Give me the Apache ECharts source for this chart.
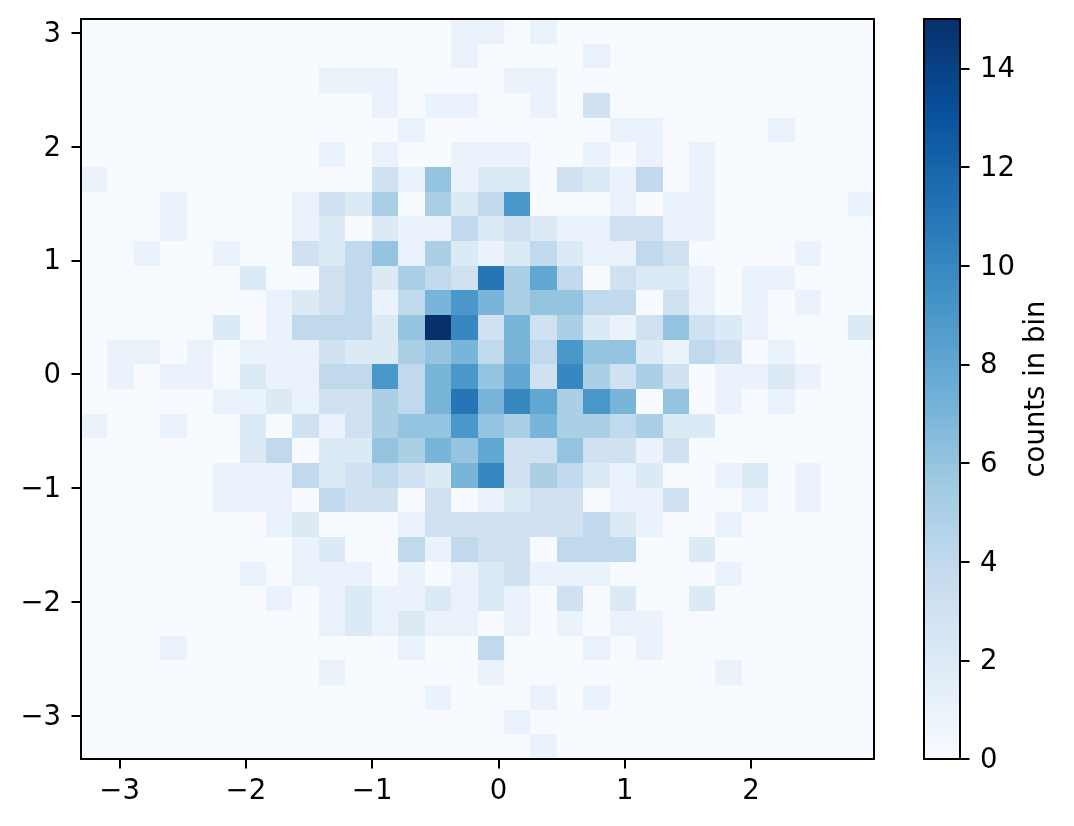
<!DOCTYPE html>
<html>
<head>
<meta charset="utf-8">
<style>html,body{margin:0;padding:0;background:#fff}#c{width:1074px;height:826px}</style>
<script src="https://cdn.jsdelivr.net/npm/echarts@6/dist/echarts.min.js"></script>
</head>
<body>
<div id="c"></div>
<script>
const xMin = -3.306, xMax = 2.975, yMin = -3.38, yMax = 3.12;
const xTicks = [-3, -2, -1, 0, 1, 2];
const yTicks = [-3, -2, -1, 0, 1, 2, 3];
const barTicks = [0, 2, 4, 6, 8, 10, 12, 14];
const blues = ['#f7fbff','#deebf7','#c6dbef','#9ecae1','#6baed6','#4292c6','#2171b5','#08519c','#08306b'];
const barLabel = 'counts in bin';
// counts per bin: first row is the top of the plot
const counts = [
[0,0,0,0,0,0,0,0,0,0,0,0,0,0,1,1,0,1,0,0,0,0,0,0,0,0,0,0,0,0],
[0,0,0,0,0,0,0,0,0,0,0,0,0,0,1,0,0,0,0,1,0,0,0,0,0,0,0,0,0,0],
[0,0,0,0,0,0,0,0,0,1,1,1,0,0,0,0,1,1,0,0,0,0,0,0,0,0,0,0,0,0],
[0,0,0,0,0,0,0,0,0,0,0,1,0,1,1,0,0,1,0,3,0,0,0,0,0,0,0,0,0,0],
[0,0,0,0,0,0,0,0,0,0,0,0,1,0,0,0,0,0,0,0,1,1,0,0,0,0,1,0,0,0],
[0,0,0,0,0,0,0,0,0,1,0,1,0,0,1,1,1,0,0,1,0,1,0,1,0,0,0,0,0,0],
[1,0,0,0,0,0,0,0,0,0,0,3,1,6,1,2,2,0,3,2,1,4,0,1,0,0,0,0,0,0],
[0,0,0,1,0,0,0,0,1,3,2,5,0,5,2,4,9,0,0,0,1,0,1,1,0,0,0,0,0,1],
[0,0,0,1,0,0,0,0,1,2,0,2,1,1,4,2,3,2,1,1,3,3,1,1,0,0,0,0,0,0],
[0,0,1,0,0,1,0,0,3,2,4,6,1,5,2,1,2,4,2,1,1,4,3,0,0,0,0,1,0,0],
[0,0,0,0,0,0,2,0,0,3,4,2,5,4,3,11,5,8,4,0,3,2,2,1,0,1,1,0,0,0],
[0,0,0,0,0,0,0,1,2,3,4,1,4,7,9,7,5,6,6,4,4,0,3,1,0,1,0,1,0,0],
[0,0,0,0,0,2,0,1,4,4,4,2,6,15,10,3,7,3,5,2,1,3,6,3,2,1,0,0,0,2],
[0,1,1,0,1,0,1,1,1,3,2,2,5,6,7,4,7,4,9,6,6,2,1,4,3,0,1,0,0,0],
[0,1,0,1,1,0,2,1,1,4,4,9,4,7,9,6,8,3,10,5,3,5,3,0,1,1,2,1,0,0],
[0,0,0,0,0,1,1,2,1,3,3,5,4,7,11,7,10,8,5,9,7,0,6,0,1,0,1,0,0,0],
[1,0,0,1,0,0,2,0,3,1,3,5,6,6,9,6,5,7,5,5,4,5,2,2,0,0,0,0,0,0],
[0,0,0,0,0,0,2,4,0,2,2,6,5,7,6,8,3,3,6,3,3,1,3,0,0,0,0,0,0,0],
[0,0,0,0,0,1,1,1,4,2,3,4,3,2,7,10,3,5,4,2,1,2,0,0,1,2,0,1,0,0],
[0,0,0,0,0,1,1,1,0,4,3,3,0,3,0,1,2,3,3,0,1,1,3,0,0,1,0,1,0,0],
[0,0,0,0,0,0,0,1,2,0,0,0,1,3,3,3,3,3,3,4,2,1,0,0,1,0,0,0,0,0],
[0,0,0,0,0,0,0,0,1,2,0,0,4,1,4,3,3,0,4,4,4,0,0,2,0,0,0,0,0,0],
[0,0,0,0,0,0,1,0,1,1,1,0,1,0,1,2,3,1,1,1,0,0,0,0,1,0,0,0,0,0],
[0,0,0,0,0,0,0,1,0,1,2,1,1,2,1,2,1,0,3,0,2,0,0,2,0,0,0,0,0,0],
[0,0,0,0,0,0,0,0,0,1,2,1,2,1,1,0,1,0,1,0,1,1,0,0,0,0,0,0,0,0],
[0,0,0,1,0,0,0,0,0,0,0,0,1,0,0,4,0,0,0,1,0,1,0,0,0,0,0,0,0,0],
[0,0,0,0,0,0,0,0,0,1,0,0,0,0,0,1,0,0,0,0,0,0,0,0,1,0,0,0,0,0],
[0,0,0,0,0,0,0,0,0,0,0,0,0,1,0,0,0,1,0,1,0,0,0,0,0,0,0,0,0,0],
[0,0,0,0,0,0,0,0,0,0,0,0,0,0,0,0,1,0,0,0,0,0,0,0,0,0,0,0,0,0],
[0,0,0,0,0,0,0,0,0,0,0,0,0,0,0,0,0,1,0,0,0,0,0,0,0,0,0,0,0,0]
];

const nRows = counts.length, nCols = counts[0].length;
const dx = (xMax - xMin) / nCols, dy = (yMax - yMin) / nRows;
const cells = [];
counts.forEach((row, r) => row.forEach((v, c) => {
  cells.push([xMin + c * dx, xMin + (c + 1) * dx, yMax - (r + 1) * dy, yMax - r * dy, v]);
}));

const FONT = 'DejaVu Sans';
const FS = 27.5;
const minus = v => String(v).replace('-', '\u2212');
function axisCommon(vals, margin, nudge) {
  return {
    axisLine: { show: true, onZero: false, lineStyle: { color: '#000', width: 2 } },
    axisTick: { show: true, length: 9.5, inside: false, customValues: vals, lineStyle: { color: '#000', width: 2 } },
    axisLabel: {
      show: true, customValues: vals, color: '#000', fontFamily: FONT, fontSize: FS, margin: margin,
      formatter: v => '{t|' + minus(v) + '}',
      rich: { t: { color: '#000', fontFamily: FONT, fontSize: FS, padding: [nudge, 0, 0, 0] } }
    },
    splitLine: { show: false }
  };
}
const frame = { show: true, z: 5, backgroundColor: 'transparent', borderColor: '#000', borderWidth: 2 };

const chart = echarts.init(document.getElementById('c'), null, { renderer: 'canvas' });
chart.setOption({
  animation: false,
  backgroundColor: '#fff',
  grid: [
    Object.assign({ left: 81, top: 19, width: 793, height: 740 }, frame),
    Object.assign({ left: 924, top: 19, width: 36, height: 740 }, frame)
  ],
  xAxis: [
    Object.assign({ type: 'value', gridIndex: 0, min: xMin, max: xMax, position: 'bottom' }, axisCommon(xTicks, 19, 0)),
    { type: 'value', gridIndex: 1, min: 0, max: 1, show: false }
  ],
  yAxis: [
    Object.assign({ type: 'value', gridIndex: 0, min: yMin, max: yMax, position: 'left' }, axisCommon(yTicks, 20, 4)),
    Object.assign({
      type: 'value', gridIndex: 1, min: 0, max: 15, position: 'right',
      name: barLabel, nameLocation: 'middle', nameRotate: 90, nameGap: 63,
      nameTextStyle: { color: '#000', fontFamily: FONT, fontSize: FS }
    }, axisCommon(barTicks, 20, 4))
  ],
  visualMap: { show: false, type: 'continuous', seriesIndex: 0, dimension: 4, min: 0, max: 15, inRange: { color: blues } },
  series: [
    {
      type: 'custom',
      xAxisIndex: 0, yAxisIndex: 0,
      data: cells,
      encode: { x: [0, 1], y: [2, 3] },
      clip: true,
      renderItem: (params, api) => {
        const a = api.coord([api.value(0), api.value(3)]);
        const b = api.coord([api.value(1), api.value(2)]);
        const x0 = Math.round(a[0]), y0 = Math.round(a[1]);
        const x1 = Math.round(b[0]), y1 = Math.round(b[1]);
        return { type: 'rect', shape: { x: x0, y: y0, width: x1 - x0, height: y1 - y0 }, style: { fill: api.visual('color') } };
      }
    },
    {
      type: 'custom',
      xAxisIndex: 1, yAxisIndex: 1,
      data: [[0, 1, 0, 15]],
      encode: { x: [0, 1], y: [2, 3] },
      renderItem: (params, api) => {
        const a = api.coord([api.value(0), api.value(3)]);
        const b = api.coord([api.value(1), api.value(2)]);
        return {
          type: 'rect',
          shape: { x: a[0], y: a[1], width: b[0] - a[0], height: b[1] - a[1] },
          style: { fill: new echarts.graphic.LinearGradient(0, 1, 0, 0,
            blues.map((color, i) => ({ offset: i / (blues.length - 1), color }))) }
        };
      }
    }
  ]
});
</script>
</body>
</html>
